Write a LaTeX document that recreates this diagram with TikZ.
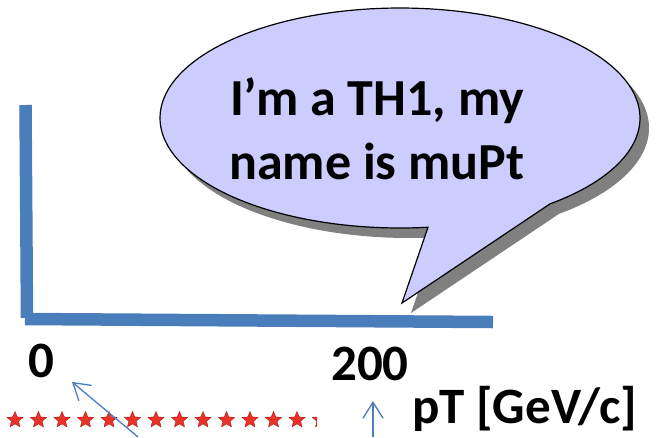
\documentclass[tikz,border=0pt]{standalone}
\usepackage{fontspec}
\setmainfont{Carlito}
\usetikzlibrary{shapes.geometric,arrows.meta}
\definecolor{axisblue}{RGB}{74,126,187}
\definecolor{bubblefill}{RGB}{204,204,255}
\definecolor{shadowgray}{RGB}{128,128,128}
\definecolor{starred}{RGB}{232,52,40}
\begin{document}
\begin{tikzpicture}[x=1pt,y=-1pt,
  axisbar/.style={draw=axisblue,line width=12.5pt},
  lbl/.style={font=\fontsize{51}{61}\selectfont\bfseries,inner sep=0pt,anchor=base west},
  ptr/.style={draw=axisblue,line width=1.3pt,-{Straight Barb[length=16pt,width=20pt,line width=1.3pt]}},
  starnode/.style={star,star points=5,star point ratio=2.2,minimum size=17pt,inner sep=0pt,fill=starred,draw=red!65!black,line width=0.3pt}]
\useasboundingbox (0,0) rectangle (660,437);
% axes
\draw[axisbar] (25.5,105) -- (27,318);
\draw[axisbar] (25,319) -- (493,322);
% bubble shadow
\fill[shadowgray] plot[domain=83.3:411.3,samples=160] ({409+240*cos(\x)},{128+110*sin(\x)}) -- (411,313) -- cycle;
% bubble
\filldraw[fill=bubblefill,draw=black,line width=1.2pt,line join=miter] plot[domain=83.3:411.3,samples=160] ({400+240*cos(\x)},{118+110*sin(\x)}) -- (402,303) -- cycle;
\node[font=\fontsize{52}{64}\selectfont\bfseries,align=center,anchor=base,inner sep=0pt] (bubbletext) at (377,179) {I’m a TH1, my\\name is muPt};
% labels
\node[lbl] (zero) at (28,377) {0};
\node[lbl] (twohundred) at (331,380) {200};
\node[lbl] (ptlabel) at (412,423) {pT [GeV/c]};
% stars
\begin{scope}
\clip (0,400) rectangle (317,440);
\foreach \i in {0,...,13} \node[starnode] (s\i) at ({15+23.5*\i},420) {};
\end{scope}
% pointers
\coordinate (a1s) at (138,437);
\coordinate (a1e) at (72,382);
\coordinate (a2s) at (373,437);
\coordinate (a2e) at (373,401);
\draw[ptr] (a1s) -- (a1e);
\draw[ptr] (a2s) -- (a2e);
\end{tikzpicture}
\end{document}
